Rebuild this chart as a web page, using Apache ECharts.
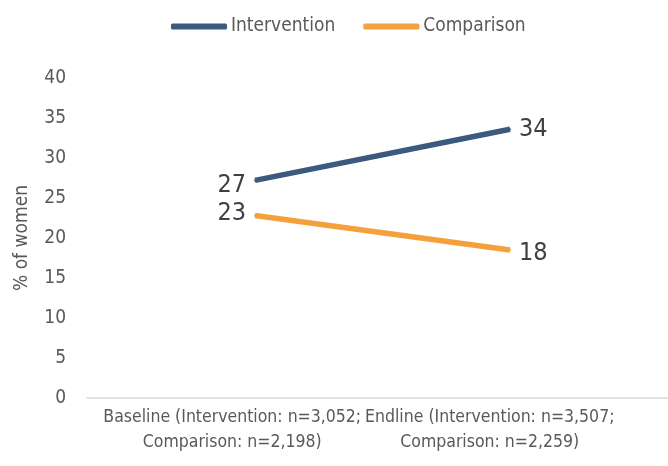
<!DOCTYPE html>
<html><head><meta charset="utf-8">
<script src="https://cdn.jsdelivr.net/npm/echarts@6/dist/echarts.min.js"></script>
<style>html,body{margin:0;padding:0;background:#fff}#c{width:668px;height:466px}</style>
</head><body><div id="c"></div>
<script>
const categories = ['Baseline (Intervention: n=3,052;\nComparison: n=2,198)', 'Endline (Intervention: n=3,507;\nComparison: n=2,259)'];
const intervention = [27.2, 33.6];
const comparison = [22.8, 18.5];
const interventionLabels = ['27', '34'];
const comparisonLabels = ['23', '18'];
const yTicks = { min: 0, max: 40, interval: 5 };

const FONT = "'DejaVu Sans Condensed', 'Liberation Sans Narrow', 'Arial Narrow', sans-serif";
const BLUE = '#3C5A7D', ORANGE = '#F4A03D';
const chart = echarts.init(document.getElementById('c'));
function lbl(arr) {
  return function (p) { return arr[p.dataIndex]; };
}
chart.setOption({
  animation: false,
  textStyle: { fontFamily: FONT },
  legend: {
    top: 12, left: 166, itemWidth: 56, itemHeight: 6, itemGap: 28,
    icon: 'roundRect',
    textStyle: { fontFamily: FONT, fontSize: 19, color: '#595959', padding: [0, 0, 0, -1] },
    data: [{ name: 'Intervention', itemStyle: { color: BLUE, opacity: 1 } }, { name: 'Comparison', itemStyle: { color: ORANGE, opacity: 1 } }]
  },
  grid: [
    { left: 87, right: 0, top: 78, bottom: 68, outerBoundsMode: 'none', containLabel: false },
    { left: 255, right: 158, top: 78, bottom: 68, outerBoundsMode: 'none', containLabel: false }
  ],
  xAxis: [
    {
      type: 'category', gridIndex: 0, data: categories,
      axisLine: { lineStyle: { color: '#d9d9d9', width: 1.5 } },
      axisTick: { show: false },
      axisLabel: {
        margin: 7, fontFamily: FONT, fontSize: 17.5, color: '#595959', lineHeight: 25,
        interval: 0, hideOverlap: false,
        formatter: function (v, i) { return i === 1 ? '{e|' + v.replace('\n', '}\n{e|') + '}' : v; },
        rich: { e: { fontFamily: FONT, fontSize: 17.5, color: '#595959', lineHeight: 25, padding: [0, 66, 0, 0] } }
      }
    },
    {
      type: 'category', gridIndex: 1, data: categories, boundaryGap: false,
      show: false
    }
  ],
  yAxis: [
    {
      type: 'value', gridIndex: 0, min: yTicks.min, max: yTicks.max, interval: yTicks.interval,
      name: '% of women', nameLocation: 'middle', nameGap: 55,
      nameTextStyle: { fontFamily: FONT, fontSize: 19, color: '#595959' },
      axisLine: { show: false }, axisTick: { show: false }, splitLine: { show: false },
      axisLabel: { margin: 21, fontFamily: FONT, fontSize: 19, color: '#595959' }
    },
    {
      type: 'value', gridIndex: 1, min: yTicks.min, max: yTicks.max, interval: yTicks.interval,
      show: false, splitLine: { show: false }
    }
  ],
  series: [
    {
      name: 'Intervention', type: 'line', xAxisIndex: 1, yAxisIndex: 1,
      symbol: 'circle', symbolSize: 2, showSymbol: true, color: BLUE,
      lineStyle: { width: 5.5, color: BLUE, cap: 'butt' },
      label: { show: true, formatter: lbl(interventionLabels), fontFamily: FONT, fontSize: 25, color: '#404040', distance: 8 },
      data: intervention.map(function (v, i) { return { value: v, label: { show: true, position: i === 0 ? 'left' : 'right', offset: [0, i === 0 ? 5 : 0] } }; })
    },
    {
      name: 'Comparison', type: 'line', xAxisIndex: 1, yAxisIndex: 1,
      symbol: 'circle', symbolSize: 2, showSymbol: true, color: ORANGE,
      lineStyle: { width: 5.5, color: ORANGE, cap: 'butt' },
      label: { show: true, formatter: lbl(comparisonLabels), fontFamily: FONT, fontSize: 25, color: '#404040', distance: 8 },
      data: comparison.map(function (v, i) { return { value: v, label: { show: true, position: i === 0 ? 'left' : 'right', offset: [0, i === 0 ? -2 : 3] } }; })
    }
  ]
});
</script></body></html>
